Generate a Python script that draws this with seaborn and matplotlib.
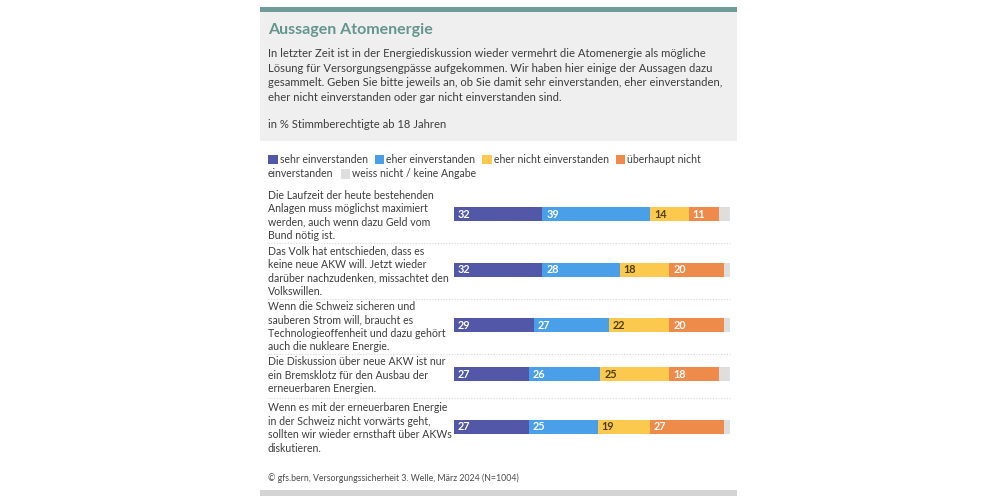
import numpy as np
import pandas as pd
import matplotlib.pyplot as plt
import seaborn as sns
from matplotlib.patches import Rectangle
from matplotlib.lines import Line2D

# ---------- DATA ----------
statements = [
    "Die Laufzeit der heute bestehenden\nAnlagen muss möglichst maximiert\nwerden, auch wenn dazu Geld vom\nBund nötig ist.",
    "Das Volk hat entschieden, dass es\nkeine neue AKW will. Jetzt wieder\ndarüber nachzudenken, missachtet den\nVolkswillen.",
    "Wenn die Schweiz sicheren und\nsauberen Strom will, braucht es\nTechnologieoffenheit und dazu gehört\nauch die nukleare Energie.",
    "Die Diskussion über neue AKW ist nur\nein Bremsklotz für den Ausbau der\nerneuerbaren Energien.",
    "Wenn es mit der erneuerbaren Energie\nin der Schweiz nicht vorwärts geht,\nsollten wir wieder ernsthaft über AKWs\ndiskutieren.",
]
answers = ["sehr einverstanden", "eher einverstanden", "eher nicht einverstanden",
           "überhaupt nicht einverstanden", "weiss nicht / keine Angabe"]
sehr = [32, 32, 29, 27, 27]
eher = [39, 28, 27, 26, 25]
eher_nicht = [14, 18, 22, 25, 19]
gar_nicht = [11, 20, 20, 18, 27]
weiss_nicht = [4, 2, 2, 4, 2]

colors = ["#5257a7", "#4aa0e8", "#fcc94f", "#ee8a4a", "#dedede"]
label_colors = ["white", "white", "#4d3d12", "white", None]

title = "Aussagen Atomenergie"
intro = ("In letzter Zeit ist in der Energiediskussion wieder vermehrt die Atomenergie als mögliche\n"
         "Lösung für Versorgungsengpässe aufgekommen. Wir haben hier einige der Aussagen dazu\n"
         "gesammelt. Geben Sie bitte jeweils an, ob Sie damit sehr einverstanden, eher einverstanden,\n"
         "eher nicht einverstanden oder gar nicht einverstanden sind.")
unit = "in % Stimmberechtigte ab 18 Jahren"
source = "© gfs.bern, Versorgungssicherheit 3. Welle, März 2024 (N=1004)"

df = pd.DataFrame({answers[0]: sehr, answers[1]: eher, answers[2]: eher_nicht,
                   answers[3]: gar_nicht, answers[4]: weiss_nicht}, index=statements)

# ---------- STYLE ----------
sns.set_theme(style="white")
plt.rcParams['font.family'] = ['Lato', 'DejaVu Sans']
TEXT = "#3d3d3d"
TEAL = "#65958f"
FS = 8.1       # intro
FS_LEG = 7.6   # legend
FS_ROW = 7.6   # statements
LINE = 13.5
ROW_MIN = 46

W, H = 1000, 500
fig = plt.figure(figsize=(10, 5), dpi=100)
fig.patch.set_facecolor("white")


def fx(x):
    return x / W


def fy(y):
    return 1 - y / H


def frame(x0, y0, x1, y1, color):
    fig.patches.append(Rectangle((fx(x0), fy(y1)), fx(x1 - x0), (y1 - y0) / H,
                                 transform=fig.transFigure, facecolor=color,
                                 edgecolor="none", zorder=0))


def lines_at(x, y0, step, text, fs, **kw):
    # one text per line, placed on its own baseline
    for j, ln in enumerate(text.split("\n")):
        fig.text(fx(x), fy(y0 + j * step + fs * 0.5), ln, fontsize=fs,
                 va="baseline", **kw)


# header
frame(260, 7, 737, 12, "#6f9c98")
frame(260, 12, 737, 141, "#efefef")
frame(260, 490, 737, 496, "#d4d4d4")

LEFT = 268
fig.text(fx(LEFT), fy(30), title, fontsize=11.5, fontweight="bold", color=TEAL, va="center")
lines_at(LEFT, 53, 14.7, intro, FS, color=TEXT)
lines_at(LEFT, 124, 14.7, unit, FS, color=TEXT)
lines_at(LEFT, 478, 14.7, source, 6.3, color="#4a4a4a")

# ---------- LEGEND (flowing, wraps by word) ----------
renderer = fig.canvas.get_renderer()
RIGHT = 730


def width_of(s):
    t = fig.text(0, 0, s, fontsize=FS_LEG)
    wd = t.get_window_extent(renderer).width
    t.remove()
    return wd


x, y = LEFT, 159
for ans, col in zip(answers, colors):
    frame(x, y - 4.5, x + 9.5, y + 5, col)
    x += 11.5
    words = ans.split(" ")
    while words:
        # longest head of the words that fits on this line
        n = len(words)
        while n > 1 and x + width_of(" ".join(words[:n])) > RIGHT:
            n -= 1
        chunk = " ".join(words[:n])
        if x + width_of(chunk) > RIGHT:
            x, y = LEFT, y + 14.5
            continue
        fig.text(fx(x), fy(y + 3.8), chunk, fontsize=FS_LEG, color=TEXT, va="baseline")
        x += width_of(chunk)
        words = words[n:]
        if words:
            x, y = LEFT, y + 14.5
    x += 7

# ---------- ROWS ----------
BAR_X0, BAR_X1 = 454, 730
BAR_H = 14
first_line = 195
for i, stmt in enumerate(df.index):
    n = stmt.count("\n") + 1
    lines_at(LEFT, first_line, LINE, stmt, FS_ROW, color=TEXT)
    yc = first_line + (n - 1) * LINE / 2 - 1

    ax = fig.add_axes([fx(BAR_X0), fy(yc + BAR_H / 2), fx(BAR_X1 - BAR_X0), BAR_H / H])
    row = df.loc[stmt]
    cum = row.cumsum()
    # draw cumulative bars back to front
    for k in range(len(answers) - 1, -1, -1):
        sns.barplot(x=[cum.iloc[k]], y=[0], orient="h", color=colors[k],
                    width=1, linewidth=0, saturation=1, ax=ax)
    starts = cum - row
    for k in range(len(answers) - 1):
        ax.text(starts.iloc[k] + 1.4, 0, f"{row.iloc[k]:g}", color=label_colors[k],
                fontsize=7.8, fontweight="bold", va="center", ha="left")
    ax.set_xlim(0, 100)
    ax.set_ylim(0.5, -0.5)
    ax.axis("off")

    if i < len(df.index) - 1:
        nxt = first_line + max(n * LINE + 1.5, ROW_MIN)
        sep = (first_line + (n - 1) * LINE + nxt) / 2
        fig.add_artist(Line2D([fx(LEFT), fx(BAR_X1)], [fy(sep), fy(sep)],
                              transform=fig.transFigure, color="#d8d8d8",
                              linewidth=0.8, linestyle=(0, (1, 1.5))))
        first_line = nxt

fig.savefig("out.png", dpi=100, facecolor="white")
